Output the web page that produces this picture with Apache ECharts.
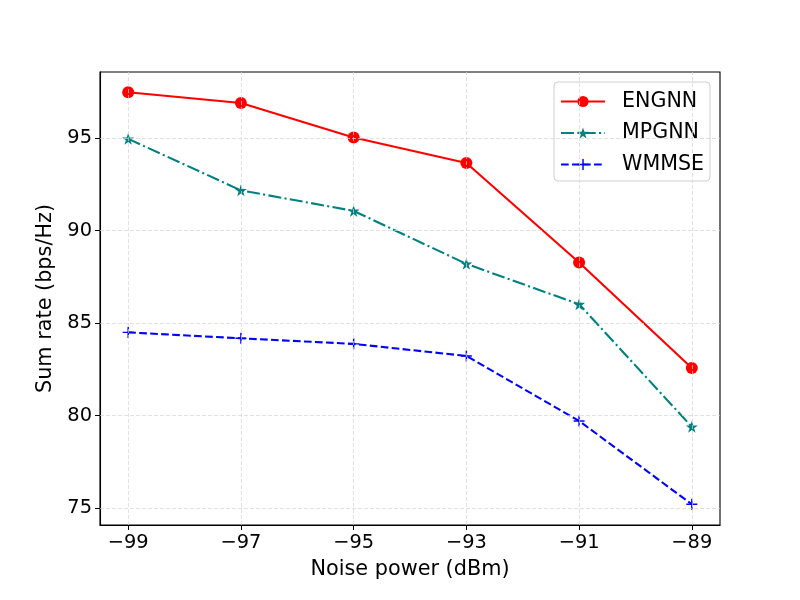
<!DOCTYPE html>
<html><head><meta charset="utf-8">
<script src="https://cdn.jsdelivr.net/npm/echarts@6/dist/echarts.min.js"></script>
<style>html,body{margin:0;padding:0;background:#fff}#c{width:800px;height:600px}</style>
</head><body><div id="c"></div>
<script>
const noise = [-99, -97, -95, -93, -91, -89];
const engnn = [97.47, 96.89, 95.02, 93.65, 88.27, 82.58];
const mpgnn = [94.95, 92.17, 91.06, 88.2, 86.02, 79.4];
const wmmse = [84.5, 84.18, 83.88, 83.23, 79.72, 75.22];
const xTicks = [-99, -97, -95, -93, -91, -89];
const yTicks = [75, 80, 85, 90, 95];

const star = 'path://M0,-1L0.225,-0.309L0.951,-0.309L0.363,0.118L0.588,0.809L0,0.382L-0.588,0.809L-0.363,0.118L-0.951,-0.309L-0.225,-0.309Z';
const plus = 'path://M-1,-0.13H1V0.13H-1Z M-0.13,-1H0.13V1H-0.13Z';
const font = 'DejaVu Sans';
const pair = a => noise.map((x, i) => [x, a[i]]);
const fmt = v => String(v).replace('-', '\u2212');

const chart = echarts.init(document.getElementById('c'), null, {renderer: 'canvas'});
chart.setOption({
  animation: false,
  backgroundColor: '#fff',
  textStyle: {fontFamily: font},
  grid: {left: 100, right: 80, top: 72, bottom: 75, show: true, borderColor: '#000', borderWidth: 1.1, backgroundColor: 'transparent'},
  xAxis: {
    type: 'value', min: -99.5, max: -88.5,
    name: 'Noise power (dBm)', nameLocation: 'middle', nameGap: 34,
    nameTextStyle: {fontSize: 20.8, color: '#000', fontFamily: font},
    axisLine: {show: true, onZero: false, lineStyle: {color: '#000', width: 1.1}},
    axisTick: {show: true, length: 5, customValues: xTicks, lineStyle: {color: '#000', width: 1}},
    axisLabel: {customValues: xTicks, formatter: fmt, fontSize: 19.4, color: '#000', margin: 8, fontFamily: font},
    splitLine: {show: false}
  },
  yAxis: {
    type: 'value', min: 74.1, max: 98.56,
    name: 'Sum rate (bps/Hz)', nameLocation: 'middle', nameGap: 44, nameRotate: 90,
    nameTextStyle: {fontSize: 20.8, color: '#000', fontFamily: font},
    axisLine: {show: true, lineStyle: {color: '#000', width: 1.1}},
    axisTick: {show: true, length: 5, customValues: yTicks, lineStyle: {color: '#000', width: 1}},
    axisLabel: {customValues: yTicks, fontSize: 19.4, color: '#000', margin: 8, fontFamily: font},
    splitLine: {show: false}
  },
  legend: {
    right: 90, top: 82, orient: 'vertical',
    padding: [9, 6, 6, 6], itemGap: 10.5,
    itemWidth: 44, itemHeight: 14,
    backgroundColor: '#fff', borderColor: '#d0d0d0', borderWidth: 1, borderRadius: 4,
    textStyle: {fontSize: 20.6, lineHeight: 21, color: '#000', fontFamily: font, padding: [0, 0, 0, 12]},
    data: ['ENGNN', 'MPGNN', 'WMMSE']
  },
  series: [
    {
      name: 'grid', type: 'line', data: [], silent: true,
      markLine: {
        silent: true, symbol: 'none', label: {show: false},
        lineStyle: {color: '#d4d4d4', width: 0.7, type: [4, 2]},
        data: xTicks.map(v => ({xAxis: v})).concat(yTicks.map(v => ({yAxis: v})))
      }
    },
    {
      name: 'ENGNN', type: 'line', data: pair(engnn),
      symbol: 'circle', symbolSize: 12,
      itemStyle: {color: '#ff0000'},
      lineStyle: {color: '#ff0000', width: 2.1, type: 'solid'}
    },
    {
      name: 'MPGNN', type: 'line', data: pair(mpgnn),
      symbol: star, symbolSize: 12,
      itemStyle: {color: '#008080'},
      lineStyle: {color: '#008080', width: 2.1, type: [13, 3.3, 2.1, 3.3]}
    },
    {
      name: 'WMMSE', type: 'line', data: pair(wmmse),
      symbol: plus, symbolSize: 11,
      itemStyle: {color: '#0000ff'},
      lineStyle: {color: '#0000ff', width: 2.1, type: [7.7, 3.3]}
    }
  ]
});
</script></body></html>
